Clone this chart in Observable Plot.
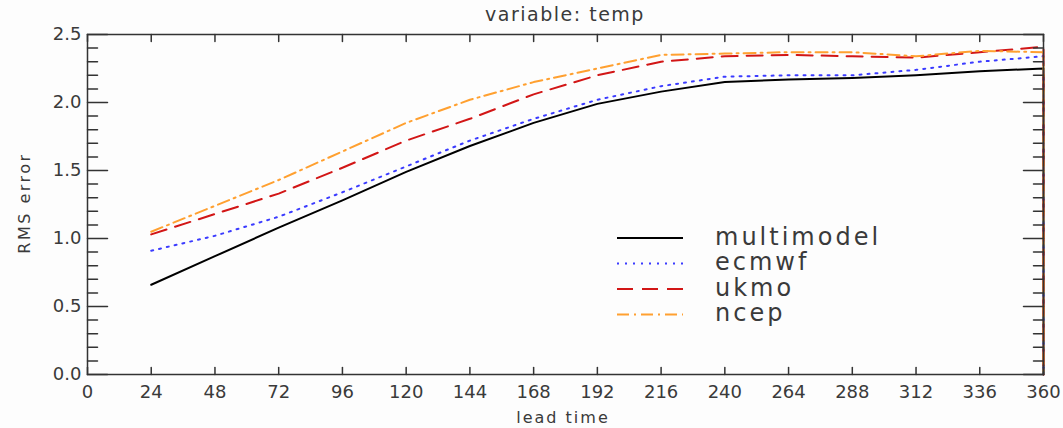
<!DOCTYPE html>
<html><head><meta charset="utf-8">
<script src="https://cdn.jsdelivr.net/npm/d3@7"></script>
<script src="https://cdn.jsdelivr.net/npm/@observablehq/plot@0.6"></script>
<style>
body{margin:0;background:#fdfdfd;font-family:"DejaVu Sans",sans-serif;}
#wrap{position:relative;width:1063px;height:428px;}
#wrap svg.overlay{position:absolute;left:0;top:0;pointer-events:none;}
</style></head><body><div id="wrap"></div>
<script>
// ---- data ----
const leadTimes = [24,48,72,96,120,144,168,192,216,240,264,288,312,336,360,360];
const multimodel = [0.66,0.87,1.08,1.28,1.49,1.68,1.85,1.99,2.08,2.15,2.17,2.18,2.20,2.23,2.25,0];
const ecmwf      = [0.91,1.02,1.16,1.34,1.53,1.72,1.88,2.02,2.12,2.19,2.20,2.20,2.24,2.30,2.34,0];
const ukmo       = [1.03,1.18,1.33,1.52,1.72,1.88,2.06,2.20,2.30,2.34,2.35,2.34,2.33,2.37,2.41,0];
const ncep       = [1.05,1.24,1.43,1.64,1.85,2.02,2.15,2.25,2.35,2.36,2.37,2.37,2.34,2.38,2.37,0];
const seriesNames = ["multimodel","ecmwf","ukmo","ncep"];
const seriesValues = [multimodel, ecmwf, ukmo, ncep];
const xTicks = [0,24,48,72,96,120,144,168,192,216,240,264,288,312,336,360];
const yMajorTicks = [0,0.5,1.0,1.5,2.0,2.5];
const yMinorTicks = [0.1,0.2,0.3,0.4,0.6,0.7,0.8,0.9,1.1,1.2,1.3,1.4,1.6,1.7,1.8,1.9,2.1,2.2,2.3,2.4];
const titleText = "variable: temp";
const xLabel = "lead time";
const yLabel = "RMS error";

// ---- styles ----
const seriesColors = ["#000000","#3b3bff","#d21616","#ffa030"];
const seriesDash = [null,"2,6","16,9","12,5,2,5"];
const axisColor = "#333";
const textColor = "#3a3a3a";

const data = seriesNames.flatMap((name, i) =>
  leadTimes.map((t, j) => ({series: name, t, v: seriesValues[i][j]})));

const W = 1063, H = 428, mL = 87, mR = 20, mT = 34, mB = 54;

const lineShape = {draw(context, l) { context.moveTo(0, 0); context.lineTo(0, -l); }};
const tick = (values, ch, frameAnchor, length, rotate) =>
  Plot.vector(values, {[ch]: d => d, frameAnchor, length, rotate, anchor: "start",
    shape: lineShape, stroke: axisColor, strokeWidth: 1.5});

const chart = Plot.plot({
  width: W, height: H,
  marginLeft: mL, marginRight: mR, marginTop: mT, marginBottom: mB,
  x: {domain: [0, 360]},
  y: {domain: [0, 2.5]},
  style: {fontFamily: "DejaVu Sans, sans-serif", fontSize: "18px", color: textColor, background: "transparent", overflow: "visible"},
  marks: [
    ...seriesNames.map((name, i) => Plot.line(data.filter(d => d.series === name), {
      x: "t", y: "v", stroke: seriesColors[i], strokeWidth: 2,
      strokeDasharray: seriesDash[i]
    })),
    Plot.frame({stroke: axisColor, strokeWidth: 1.5}),
    // inward ticks
    tick(yMajorTicks, "y", "left", 20, 90),
    tick(yMinorTicks, "y", "left", 10, 90),
    tick(yMajorTicks, "y", "right", 20, -90),
    tick(yMinorTicks, "y", "right", 10, -90),
    tick(xTicks, "x", "bottom", 7, 0),
    tick(xTicks, "x", "top", 7, 180),
    // labels
    Plot.axisY(yMajorTicks, {anchor: "left", tickSize: 0, tickPadding: 6, tickFormat: d3.format(".1f"), label: null, fill: textColor, fontSize: 18}),
    Plot.axisX(xTicks, {anchor: "bottom", tickSize: 0, tickPadding: 11, tickFormat: d => String(d), label: null, fill: textColor, fontSize: 18})
  ]
});

const wrap = document.getElementById("wrap");
wrap.appendChild(chart);

// overlay: title, axis titles, legend
const ov = d3.select(wrap).append("svg").attr("class", "overlay")
  .attr("width", W).attr("height", H)
  .style("font-family", "DejaVu Sans, sans-serif");

ov.append("text").attr("x", 565).attr("y", 14).attr("text-anchor", "middle")
  .attr("dominant-baseline", "central").attr("fill", textColor)
  .style("font-size", "19px").style("letter-spacing", "1.5px").text(titleText);
ov.append("text").attr("x", 563).attr("y", 417).attr("text-anchor", "middle")
  .attr("dominant-baseline", "central").attr("fill", textColor)
  .style("font-size", "16px").style("letter-spacing", "2px").text(xLabel);
ov.append("text").attr("transform", "translate(24,203) rotate(-90)").attr("text-anchor", "middle")
  .attr("dominant-baseline", "central").attr("fill", textColor)
  .style("font-size", "16px").style("letter-spacing", "2.5px").text(yLabel);

const legendX0 = 617, legendX1 = 683, legendTextX = 715, legendY0 = 238, legendDY = 25.5;
seriesNames.forEach((name, i) => {
  const y = legendY0 + i * legendDY;
  ov.append("line").attr("x1", legendX0).attr("x2", legendX1).attr("y1", y).attr("y2", y)
    .attr("stroke", seriesColors[i]).attr("stroke-width", 2)
    .attr("stroke-dasharray", seriesDash[i]);
  ov.append("text").attr("x", legendTextX).attr("y", y + 6.5).attr("fill", textColor)
    .style("font-size", "24px").style("letter-spacing", "3px").text(name);
});
</script>
</body></html>
